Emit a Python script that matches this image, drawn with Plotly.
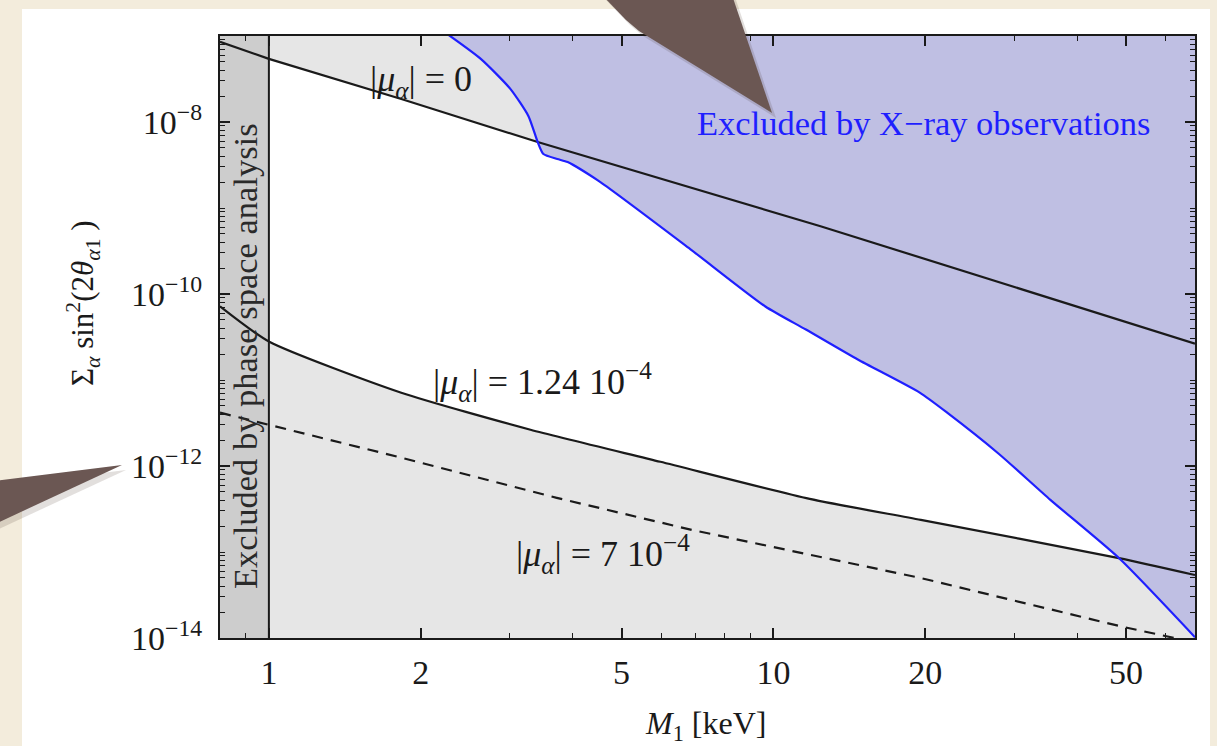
import plotly.graph_objects as go
import math

# ---------------- data ----------------
M_mu0 = [0.8, 1.0, 1.83, 3.41, 12.4, 68.5]
S_mu0 = [8.55e-8, 5.42e-8, 1.85e-8, 5.85e-9, 6.14e-10, 2.65e-11]

M_mu124 = [0.8, 1.0, 1.83, 3.30, 5.97, 11.8, 19.6, 48.4, 68.5]
S_mu124 = [7.18e-11, 2.8e-11, 7.1e-12, 2.64e-12, 1.12e-12, 4.15e-13, 2.36e-13, 8.5e-14, 5.4e-14]

M_mu7 = [0.8, 1.0, 1.83, 3.72, 6.91, 19.6, 49.5, 68.5]
S_mu7 = [4.17e-12, 3.02e-12, 1.25e-12, 4.26e-13, 1.8e-13, 4.98e-14, 1.34e-14, 8.9e-15]

M_xray = [2.27, 2.63, 3.01, 3.27, 3.41, 3.50, 3.73, 3.91, 4.54, 6.85, 9.64, 11.6,
          14.7, 19.5, 22.1, 28.0, 35.4, 48.4, 68.5]
S_xray = [1.03e-7, 5.42e-8, 2.43e-8, 1.17e-8, 5.85e-9, 4.24e-9, 3.71e-9, 3.42e-9,
          2.0e-9, 3.31e-10, 7.16e-11, 3.86e-11, 1.73e-11, 7.13e-12, 4.17e-12,
          1.38e-12, 4.04e-13, 8.5e-14, 1.02e-14]

phase_space_limit = 1.0          # keV
x_range = [0.8, 68.5]
y_range = [1e-14, 1e-7]

x_tickvals = [1, 2, 5, 10, 20, 50]
x_ticktext = ["1", "2", "5", "10", "20", "50"]
y_tickvals = [1e-14, 1e-12, 1e-10, 1e-8]
y_ticktext = ["10<sup>−14</sup>", "10<sup>−12</sup>", "10<sup>−10</sup>", "10<sup>−8</sup>"]

# ---------------- layout geometry ----------------
W, H = 1217, 746
ML, MR, MT, MB = 220, 22, 36, 108
PW, PH = W - ML - MR, H - MT - MB

def fx(px):
    return (px - ML) / PW

def fy(py):
    return (H - MB - py) / PH

SERIF = "Liberation Serif, Times New Roman, serif"
GREY = "#e6e6e6"
BAND = "#cdcdcd"
LAV = "#bfbfe3"
BLUE = "#1f1fff"
INK = "#1a1a1a"

XMIN, XMAX = x_range
YBOT, YTOP = y_range

fig = go.Figure()

# grey region above |mu|=0 line
fig.add_trace(go.Scatter(x=M_mu0 + [XMAX, XMIN], y=S_mu0 + [YTOP * 2, YTOP * 2],
                         fill="toself", fillcolor=GREY, mode="lines",
                         line=dict(width=0), hoverinfo="skip", showlegend=False))
# grey region below |mu|=1.24e-4 line
fig.add_trace(go.Scatter(x=M_mu124 + [XMAX, XMIN], y=S_mu124 + [YBOT / 2, YBOT / 2],
                         fill="toself", fillcolor=GREY, mode="lines", line_shape="spline",
                         line=dict(width=0, smoothing=0.6), hoverinfo="skip", showlegend=False))
# X-ray excluded region
fig.add_trace(go.Scatter(x=M_xray + [XMAX * 1.5, XMAX * 1.5, M_xray[0]],
                         y=S_xray + [S_xray[-1] / 10, YTOP * 5, YTOP * 5],
                         fill="toself", fillcolor=LAV, mode="lines", line_shape="spline",
                         line=dict(width=0, smoothing=0.6), hoverinfo="skip", showlegend=False))
# phase-space band
fig.add_trace(go.Scatter(x=[XMIN * 0.9, phase_space_limit, phase_space_limit, XMIN * 0.9],
                         y=[YBOT / 2, YBOT / 2, YTOP * 2, YTOP * 2],
                         fill="toself", fillcolor=BAND, mode="lines",
                         line=dict(width=0), hoverinfo="skip", showlegend=False))

# lines
fig.add_trace(go.Scatter(x=M_mu0, y=S_mu0, mode="lines",
                         line=dict(color=INK, width=2.2), showlegend=False))
fig.add_trace(go.Scatter(x=M_mu124, y=S_mu124, mode="lines", line_shape="spline",
                         line=dict(color=INK, width=2.2, smoothing=0.6), showlegend=False))
fig.add_trace(go.Scatter(x=M_mu7, y=S_mu7, mode="lines",
                         line=dict(color=INK, width=2.2, dash="11px,8px"), showlegend=False))
fig.add_trace(go.Scatter(x=M_xray, y=S_xray, mode="lines", line_shape="spline",
                         line=dict(color=BLUE, width=2.2, smoothing=0.6), showlegend=False))
fig.add_trace(go.Scatter(x=[phase_space_limit, phase_space_limit], y=[YBOT / 2, YTOP * 2],
                         mode="lines", line=dict(color=INK, width=2), showlegend=False))

x_minor = [0.9] + [k * 10 ** e for e in (0, 1) for k in range(3, 10) if k != 5] + [60]
y_minor = [k * 10.0 ** e for e in range(-14, -7) for k in range(2, 10)] + \
          [10.0 ** e for e in (-13, -11, -9, -7)]

axis_common = dict(showline=True, linecolor=INK, linewidth=2, mirror="allticks",
                   ticks="inside", ticklen=10, tickwidth=1.5, tickcolor=INK,
                   showgrid=False, zeroline=False,
                   tickfont=dict(family=SERIF, size=34, color=INK))

fig.update_xaxes(type="log", range=[math.log10(XMIN), math.log10(XMAX)],
                 tickmode="array", tickvals=x_tickvals, ticktext=x_ticktext,
                 minor=dict(tickmode="array", tickvals=x_minor, ticks="inside",
                            ticklen=5, tickwidth=1.2, tickcolor=INK, showgrid=False),
                 ticklabelstandoff=3, **axis_common)
fig.update_yaxes(type="log", range=[math.log10(YBOT), math.log10(YTOP)],
                 tickmode="array", tickvals=y_tickvals, ticktext=y_ticktext,
                 minor=dict(tickmode="array", tickvals=y_minor, ticks="inside",
                            ticklen=5, tickwidth=1.2, tickcolor=INK, showgrid=False),
                 ticklabelstandoff=9, **axis_common)

# ---------------- decorations: slide panel + arrows ----------------
shapes = [
    dict(type="rect", xref="paper", yref="paper", x0=fx(22), x1=fx(1210),
         y0=fy(H + 20), y1=fy(9), fillcolor="white", line=dict(width=0), layer="below"),
]

def path(points):
    return "M " + " L ".join(f"{fx(a):.4f},{fy(b):.4f}" for a, b in points) + " Z"

top_arrow = [(602, -5), (626, 20), (639, 31), (772, 113), (732, -5)]
left_arrow = [(-5, 481), (122, 465), (-5, 524)]
for pts in (top_arrow, left_arrow):
    shadow = [(a + 4, b + 5) for a, b in pts]
    shapes.append(dict(type="path", xref="paper", yref="paper", path=path(shadow),
                       fillcolor="rgba(60,40,30,0.15)", line=dict(width=0), layer="above"))
    shapes.append(dict(type="path", xref="paper", yref="paper", path=path(pts),
                       fillcolor="#6b5753", line=dict(width=0), layer="above"))

annotations = [
    dict(text="|<i>μ</i><sub><i>α</i></sub>| = 0", x=fx(421), y=fy(82)),
    dict(text="|<i>μ</i><sub><i>α</i></sub>| = 1.24 10<sup>−4</sup>", x=fx(542), y=fy(382)),
    dict(text="|<i>μ</i><sub><i>α</i></sub>| = 7 10<sup>−4</sup>", x=fx(603), y=fy(554)),
    dict(text="Excluded by X−ray observations", x=fx(923), y=fy(123),
         font=dict(family=SERIF, size=34.5, color=BLUE)),
    dict(text="Excluded by phase space analysis", x=fx(245), y=fy(356), textangle=-90,
         font=dict(family=SERIF, size=34.5, color="#2a2a2a")),
    dict(text="<i>M</i><sub>1</sub> [keV]", x=fx(705), y=fy(725), font=dict(family=SERIF, size=32, color=INK)),
    dict(text="Σ<sub><i>α</i></sub> sin<sup>2</sup>(2<i>θ</i><sub><i>α</i>1</sub> )",
         x=fx(83), y=fy(303), textangle=-90, font=dict(family=SERIF, size=31, color=INK)),
]
for a in annotations:
    a.setdefault("font", dict(family=SERIF, size=36, color=INK))
    a.update(xref="paper", yref="paper", showarrow=False, xanchor="center", yanchor="middle")

fig.update_layout(width=W, height=H, margin=dict(l=ML, r=MR, t=MT, b=MB),
                  paper_bgcolor="#f3ecdc", plot_bgcolor="white",
                  shapes=shapes, annotations=annotations, showlegend=False)

fig.write_html("out.html", config={"displayModeBar": False},
               post_script="document.body.style.margin='0px';"
                           "document.body.style.overflow='hidden';")
